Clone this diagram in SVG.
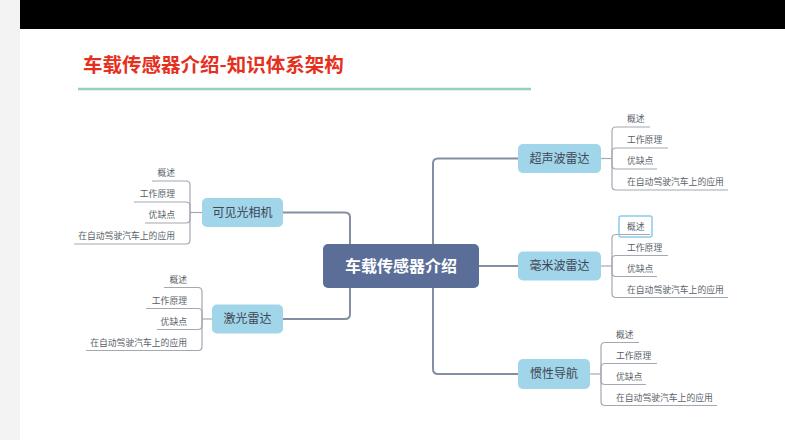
<svg xmlns="http://www.w3.org/2000/svg" width="785" height="440" viewBox="0 0 785 440">
<style>
text{font-family:"Noto Sans CJK SC","Noto Sans",sans-serif}
.main{fill:none;stroke:#848ea3;stroke-width:2}
.br{fill:none;stroke:#a3a8b2;stroke-width:1.2}
.node rect{fill:#a0d5ea}
.node text{font-size:12px;fill:#404552;text-anchor:middle}
.leaf{font-size:8.8px;fill:#5a5f68}
.l{text-anchor:end}
</style>
<rect x="0" y="0" width="785" height="440" fill="#ffffff"/>
<rect x="0" y="0" width="20" height="440" fill="#f3f3f3"/>
<rect x="20" y="0" width="765" height="29" fill="#000000"/>
<text x="83" y="72" font-size="19.5" font-weight="bold" fill="#e5301d">车载传感器介绍-知识体系架构</text>
<line x1="78" y1="89" x2="531" y2="89" stroke="#96cfc0" stroke-width="2.5"/>

<g id="connectors">
<path class="main" d="M283,212.5 H345 Q350,212.5 350,217.5 V314 Q350,319 345,319 H283"/>
<path class="main" d="M518,158.5 H438 Q433,158.5 433,163.5 V369 Q433,374 438,374 H518"/>
<path class="main" d="M479,266 H518"/>
<!-- 超声波雷达 -->
<path class="br" d="M601,158.5 H612"/>
<path class="br" d="M612,158.5 V131 Q612,127 616,127 H650"/>
<path class="br" d="M612,158.5 V152 Q612,148 616,148 H668"/>
<path class="br" d="M612,158.5 V165 Q612,169 616,169 H657"/>
<path class="br" d="M612,158.5 V186 Q612,190 616,190 H728"/>
<!-- 毫米波雷达 -->
<path class="br" d="M601,266 H612"/>
<path class="br" d="M612,266 V238.5 Q612,234.5 616,234.5 H650"/>
<path class="br" d="M612,266 V259.5 Q612,255.5 616,255.5 H668"/>
<path class="br" d="M612,266 V272.5 Q612,276.5 616,276.5 H657"/>
<path class="br" d="M612,266 V293.5 Q612,297.5 616,297.5 H728"/>
<!-- 惯性导航 -->
<path class="br" d="M590,374 H601"/>
<path class="br" d="M601,374 V346.5 Q601,342.5 605,342.5 H639"/>
<path class="br" d="M601,374 V367.5 Q601,363.5 605,363.5 H657"/>
<path class="br" d="M601,374 V380.5 Q601,384.5 605,384.5 H646"/>
<path class="br" d="M601,374 V401.5 Q601,405.5 605,405.5 H717"/>
<!-- 可见光相机 -->
<path class="br" d="M202,212.5 H190"/>
<path class="br" d="M190,212.5 V185 Q190,181 186,181 H152"/>
<path class="br" d="M190,212.5 V206 Q190,202 186,202 H134"/>
<path class="br" d="M190,212.5 V219 Q190,223 186,223 H145"/>
<path class="br" d="M190,212.5 V240 Q190,244 186,244 H74"/>
<!-- 激光雷达 -->
<path class="br" d="M212,319 H202"/>
<path class="br" d="M202,319 V291.5 Q202,287.5 198,287.5 H164"/>
<path class="br" d="M202,319 V312.5 Q202,308.5 198,308.5 H146"/>
<path class="br" d="M202,319 V325.5 Q202,329.5 198,329.5 H157"/>
<path class="br" d="M202,319 V346.5 Q202,350.5 198,350.5 H86"/>
</g>

<g id="center">
<rect x="323" y="244" width="156" height="44" rx="5" fill="#5a6e98"/>
<text x="401" y="271.5" font-size="16" font-weight="bold" fill="#ffffff" text-anchor="middle">车载传感器介绍</text>
</g>

<g id="ultrasonic" class="node">
<rect x="518" y="144" width="83" height="29" rx="5"/>
<text x="559.5" y="162.8">超声波雷达</text>
</g>
<g id="ultrasonic-leaves">
<text class="leaf" x="627" y="122">概述</text>
<text class="leaf" x="627" y="143">工作原理</text>
<text class="leaf" x="627" y="164">优缺点</text>
<text class="leaf" x="627" y="185">在自动驾驶汽车上的应用</text>
</g>

<g id="mmwave" class="node">
<rect x="518" y="251.5" width="83" height="29" rx="5"/>
<text x="559.5" y="270.3">毫米波雷达</text>
</g>
<g id="mmwave-leaves">
<rect x="619" y="216" width="33" height="21" rx="2" fill="none" stroke="#8ccbec" stroke-width="1.5"/>
<text class="leaf" x="627" y="229.5">概述</text>
<text class="leaf" x="627" y="250.5">工作原理</text>
<text class="leaf" x="627" y="271.5">优缺点</text>
<text class="leaf" x="627" y="292.5">在自动驾驶汽车上的应用</text>
</g>

<g id="inertial" class="node">
<rect x="518" y="359" width="72" height="30" rx="5"/>
<text x="554" y="378.3">惯性导航</text>
</g>
<g id="inertial-leaves">
<text class="leaf" x="616" y="337.5">概述</text>
<text class="leaf" x="616" y="358.5">工作原理</text>
<text class="leaf" x="616" y="379.5">优缺点</text>
<text class="leaf" x="616" y="400.5">在自动驾驶汽车上的应用</text>
</g>

<g id="camera" class="node">
<rect x="202" y="198" width="81" height="29" rx="5"/>
<text x="242.5" y="216.8">可见光相机</text>
</g>
<g id="camera-leaves">
<text class="leaf l" x="175" y="176">概述</text>
<text class="leaf l" x="175" y="197">工作原理</text>
<text class="leaf l" x="175" y="218">优缺点</text>
<text class="leaf l" x="175" y="239">在自动驾驶汽车上的应用</text>
</g>

<g id="lidar" class="node">
<rect x="212" y="304.5" width="71" height="29" rx="5"/>
<text x="247.5" y="323.3">激光雷达</text>
</g>
<g id="lidar-leaves">
<text class="leaf l" x="187" y="282.5">概述</text>
<text class="leaf l" x="187" y="303.5">工作原理</text>
<text class="leaf l" x="187" y="324.5">优缺点</text>
<text class="leaf l" x="187" y="345.5">在自动驾驶汽车上的应用</text>
</g>
</svg>
